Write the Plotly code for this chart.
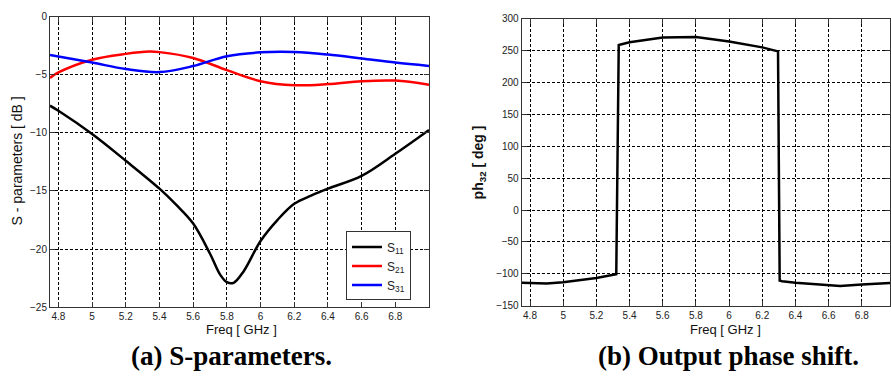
import plotly.graph_objects as go

# ---- data ----
f_s11 = [4.75, 4.8, 5.0, 5.2, 5.4, 5.5, 5.6, 5.7, 5.76, 5.8, 5.84, 5.9, 6.0, 6.1, 6.2, 6.3, 6.4, 6.6, 6.8, 7.0]
s11 = [-7.66, -8.1, -10.1, -12.4, -14.8, -16.2, -17.8, -20.4, -22.2, -22.85, -22.9, -21.9, -19.3, -17.5, -16.1, -15.4, -14.8, -13.7, -11.8, -9.75]

f_s21 = [4.75, 4.8, 5.0, 5.2, 5.34, 5.4, 5.6, 5.8, 6.0, 6.2, 6.4, 6.6, 6.8, 7.0]
s21 = [-5.27, -4.8, -3.7, -3.2, -3.0, -3.05, -3.55, -4.6, -5.55, -5.9, -5.8, -5.55, -5.5, -5.85]

f_s31 = [4.75, 5.0, 5.2, 5.4, 5.6, 5.8, 6.0, 6.2, 6.4, 6.6, 6.8, 7.0]
s31 = [-3.3, -3.95, -4.5, -4.77, -4.25, -3.4, -3.07, -3.04, -3.26, -3.6, -3.95, -4.24]

f_ph = [4.75, 4.9, 5.0, 5.2, 5.32, 5.335, 5.4, 5.6, 5.8, 6.0, 6.2, 6.295, 6.305, 6.32, 6.4, 6.6, 6.67, 6.8, 7.0]
ph32 = [-114.4, -115.4, -113.4, -106.8, -100.7, 259.0, 263.4, 271.0, 271.5, 264.4, 255.3, 249.0, -110.8, -111.9, -114.4, -118.0, -119.5, -117.0, -114.0]

x_ticks = [4.8, 5.0, 5.2, 5.4, 5.6, 5.8, 6.0, 6.2, 6.4, 6.6, 6.8]
x_ticktext = ["4.8", "5", "5.2", "5.4", "5.6", "5.8", "6", "6.2", "6.4", "6.6", "6.8"]
y1_ticks = [0, -5, -10, -15, -20, -25]
y2_ticks = [300, 250, 200, 150, 100, 50, 0, -50, -100, -150]

W, H = 891, 387
def px(x):
    return x / W
def py(y):
    return 1 - y / H

tickfont = dict(family="Liberation Sans Narrow, Liberation Sans, Arial", size=10, color="#222222")

fig = go.Figure()
fig.add_trace(go.Scatter(x=f_s11, y=s11, mode="lines", line=dict(color="black", width=2.5, shape="spline"),
                         name="S<sub>11</sub>", xaxis="x", yaxis="y"))
fig.add_trace(go.Scatter(x=f_s21, y=s21, mode="lines", line=dict(color="#ff0000", width=2.5, shape="spline"),
                         name="S<sub>21</sub>", xaxis="x", yaxis="y"))
fig.add_trace(go.Scatter(x=f_s31, y=s31, mode="lines", line=dict(color="#0000ff", width=2.5, shape="spline"),
                         name="S<sub>31</sub>", xaxis="x", yaxis="y"))
fig.add_trace(go.Scatter(x=f_ph, y=ph32, mode="lines", line=dict(color="black", width=2.5),
                         showlegend=False, xaxis="x2", yaxis="y2"))

common = dict(showgrid=True, gridcolor="black", griddash="3px,2px", gridwidth=1,
              showline=True, linecolor="#333333", linewidth=1, mirror="ticks",
              ticks="inside", ticklen=5, tickcolor="#333333", tickfont=tickfont, zeroline=False)

fig.update_layout(
    width=W, height=H, margin=dict(l=0, r=0, t=0, b=0),
    paper_bgcolor="white", plot_bgcolor="white",
    xaxis=dict(domain=[px(50), px(429)], range=[4.75, 7.0], tickvals=x_ticks, ticktext=x_ticktext,
               anchor="y", **common),
    yaxis=dict(domain=[py(310), py(11)], range=[-25, 0], tickvals=y1_ticks, anchor="x", **common),
    xaxis2=dict(domain=[px(521.7), px(890)], range=[4.75, 6.97], tickvals=x_ticks, ticktext=x_ticktext,
                anchor="y2", **common),
    yaxis2=dict(domain=[py(308.3), py(13.3)], range=[-150, 300], tickvals=y2_ticks, anchor="x2", **common),
    legend=dict(x=px(346), y=py(232), xanchor="left", yanchor="top", bgcolor="white",
                bordercolor="#333333", borderwidth=1,
                font=dict(family="Liberation Sans, Arial", size=12, color="#222222"),
                tracegroupgap=0, itemwidth=30),
    showlegend=True,
)

ann = [
    dict(text="S - parameters [ dB ]", x=px(17), y=py(160), textangle=-90, font=dict(size=14)),
    dict(text="<b>ph<sub>32</sub> [ deg ]</b>", x=px(479), y=py(161), textangle=-90, font=dict(size=14)),
    dict(text="Freq [ GHz ]", x=px(241), y=py(333), font=dict(size=13)),
    dict(text="Freq [ GHz ]", x=px(725), y=py(333), font=dict(size=13)),
    dict(text="<b>(a) S-parameters.</b>", x=px(232), y=py(360),
         font=dict(family="Liberation Serif, Times New Roman", size=27, color="black")),
    dict(text="<b>(b) Output phase shift.</b>", x=px(728), y=py(360),
         font=dict(family="Liberation Serif, Times New Roman", size=27, color="black")),
]
for a in ann:
    f = a.pop("font")
    f.setdefault("family", "Liberation Sans, Arial")
    f.setdefault("color", "#111111")
    fig.add_annotation(xref="paper", yref="paper", showarrow=False, xanchor="center", yanchor="middle",
                       font=f, **a)

fig.write_html("out.html")
